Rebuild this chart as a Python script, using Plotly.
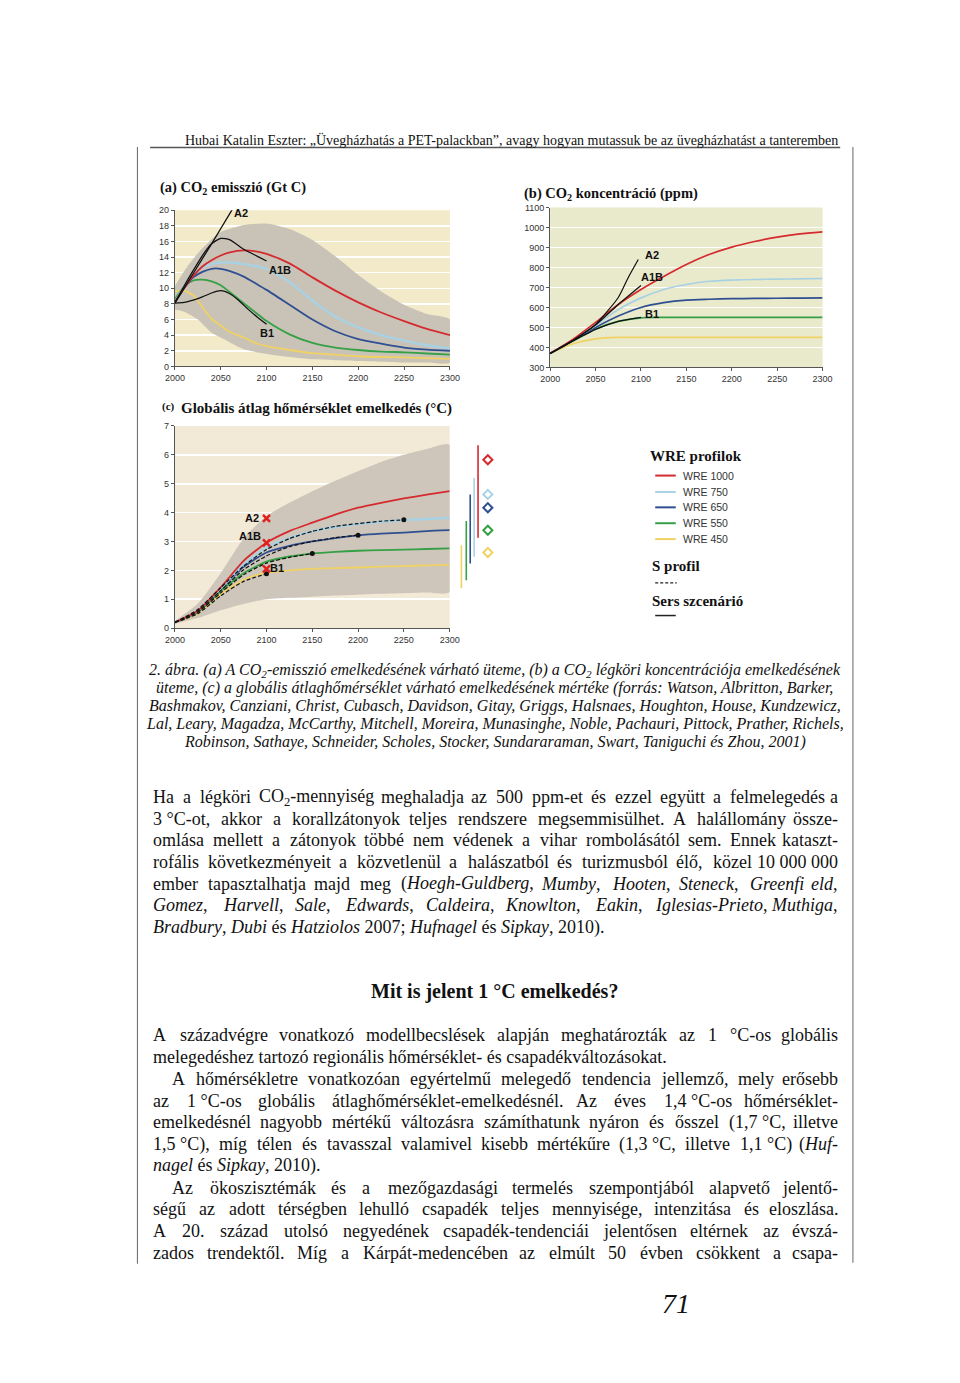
import unicodedata
import plotly.graph_objects as go

# The page is shown with the browser's 8px body margin, so the figure is sized to fit inside it.
FIG_W, FIG_H = 944, 1360
OFF = 8

# ---------------- DATA ----------------
years_a = [2000, 2010, 2020, 2030, 2040, 2050, 2060, 2075, 2090, 2100, 2125, 2150, 2175, 2200, 2225, 2250, 2275, 2300]
em_wre1000 = [8.2, 10.0, 11.6, 12.8, 13.6, 14.2, 14.6, 14.85, 14.7, 14.4, 13.2, 11.4, 9.7, 8.2, 6.9, 5.8, 4.8, 4.0]
em_wre750 = [8.2, 10.2, 11.8, 12.7, 13.1, 13.3, 13.3, 13.1, 12.8, 12.5, 10.8, 8.4, 6.4, 5.0, 4.0, 3.3, 2.7, 2.3]
em_wre650 = [8.2, 10.0, 11.4, 12.1, 12.5, 12.5, 12.2, 11.5, 10.5, 9.8, 7.9, 6.0, 4.5, 3.5, 2.9, 2.4, 2.15, 2.0]
em_wre550 = [8.6, 10.2, 11.0, 11.1, 10.9, 10.4, 9.5, 8.1, 6.7, 5.8, 4.1, 3.0, 2.4, 2.1, 1.9, 1.8, 1.65, 1.5]
em_wre450 = [9.6, 9.7, 9.1, 7.6, 6.1, 5.2, 4.4, 3.7, 2.9, 2.6, 2.1, 1.7, 1.5, 1.3, 1.2, 1.15, 1.05, 0.95]
band_a_years = [2000, 2010, 2025, 2040, 2050, 2075, 2100, 2125, 2150, 2175, 2200, 2225, 2250, 2275, 2300]
band_a_upper = [10.3, 12.2, 14.5, 16.3, 17.2, 18.1, 18.3, 17.6, 16.2, 14.1, 11.7, 9.6, 7.9, 6.7, 6.0]
band_a_lower = [7.3, 7.0, 6.0, 4.3, 3.7, 2.2, 1.6, 1.2, 0.9, 0.8, 0.7, 0.6, 0.5, 0.5, 0.5]
sres_a_years_a2 = [2000, 2020, 2040, 2060, 2075]
sres_a_a2 = [8.1, 11.9, 15.7, 19.6, 22.5]
sres_a_years = [2000, 2010, 2020, 2030, 2040, 2050, 2060, 2075, 2090, 2100]
sres_a_a1b = [8.2, 10.3, 12.3, 14.2, 15.7, 16.4, 16.2, 15.0, 14.1, 13.5]
sres_a_years_b1 = [2000, 2010, 2020, 2030, 2040, 2050, 2060, 2070, 2080, 2090, 2100]
sres_a_b1 = [8.1, 8.2, 8.5, 8.9, 9.4, 9.7, 9.3, 8.4, 7.3, 6.3, 5.4]

years_b = [2000, 2025, 2050, 2075, 2100, 2125, 2150, 2175, 2200, 2225, 2250, 2275, 2300]
co2_wre1000 = [370, 440, 525, 615, 690, 755, 815, 865, 902, 930, 952, 968, 978]
co2_wre750 = [370, 438, 510, 590, 648, 690, 715, 731, 737, 740, 742, 743, 745]
co2_wre650 = [370, 435, 500, 557, 600, 624, 637, 641, 644, 645, 646, 647, 648]
co2_wre550 = [370, 432, 492, 530, 548, 550, 550, 550, 550, 550, 550, 550, 550]
co2_wre450 = [370, 418, 443, 450, 450, 450, 450, 450, 450, 450, 450, 450, 450]
sres_b_years_a2 = [2000, 2025, 2050, 2075, 2086, 2097]
sres_b_a2 = [370, 435, 515, 650, 750, 840]
sres_b_years = [2000, 2025, 2050, 2075, 2100]
sres_b_a1b = [370, 435, 512, 615, 710]
sres_b_b1 = [370, 432, 490, 530, 550]

years_c = [2000, 2025, 2050, 2075, 2100, 2125, 2150, 2175, 2200, 2225, 2250, 2275, 2300]
t_wre1000 = [0.2, 0.6, 1.41, 2.33, 2.96, 3.36, 3.65, 3.93, 4.17, 4.34, 4.49, 4.62, 4.74]
t_wre750 = [0.2, 0.6, 1.38, 2.2, 2.78, 3.12, 3.35, 3.5, 3.6, 3.68, 3.74, 3.78, 3.82]
t_wre650 = [0.2, 0.57, 1.35, 2.12, 2.62, 2.85, 3.0, 3.12, 3.21, 3.27, 3.31, 3.36, 3.39]
t_wre550 = [0.2, 0.55, 1.28, 1.9, 2.3, 2.48, 2.58, 2.64, 2.68, 2.7, 2.72, 2.74, 2.76]
t_wre450 = [0.2, 0.5, 1.18, 1.68, 1.92, 2.0, 2.05, 2.08, 2.1, 2.13, 2.15, 2.17, 2.19]
band_c_upper = [0.25, 0.85, 1.9, 3.1, 3.88, 4.34, 4.74, 5.1, 5.43, 5.75, 6.0, 6.2, 6.35]
band_c_lower = [0.15, 0.35, 0.62, 0.84, 1.0, 1.05, 1.09, 1.13, 1.16, 1.19, 1.21, 1.23, 1.25]
s_450 = [0.2, 0.5, 1.12, 1.62, 1.88]
s_550 = [0.2, 0.55, 1.22, 1.85, 2.25, 2.45, 2.58]
s_650 = [0.2, 0.6, 1.3, 2.02, 2.5, 2.82, 3.0, 3.13, 3.22]
s_750 = [0.2, 0.65, 1.4, 2.15, 2.72, 3.1, 3.35, 3.52, 3.62, 3.7, 3.75]
sres_c_labels = ["A2", "A1B", "B1"]
sres_c_2100 = [3.8, 2.95, 2.05]
eq_low = [1.38, 1.66, 2.24, 2.47, 3.13]
eq_high = [2.87, 3.71, 4.63, 5.2, 6.33]
eq_best = [2.62, 3.39, 4.17, 4.63, 5.83]

wre_names = ["WRE 1000", "WRE 750", "WRE 650", "WRE 550", "WRE 450"]

C_RED, C_LBLUE, C_DBLUE, C_GREEN, C_YEL = "#d52a2e", "#a8d2e4", "#2f4f91", "#35a046", "#f0d264"
wre_colors = [C_RED, C_LBLUE, C_DBLUE, C_GREEN, C_YEL]
SERIF = "Liberation Serif"
SANS = "Liberation Sans"


def PX(x):
    return (x - OFF) / FIG_W


def PY(y):
    return 1 - (y - OFF) / FIG_H


fig = go.Figure()


def add_line(x, y, color, xa, ya, width=1.6, dash="solid"):
    fig.add_trace(go.Scatter(x=x, y=y, mode="lines", line=dict(color=color, width=width, dash=dash, shape="spline", smoothing=0.6),
                             xaxis=xa, yaxis=ya, hoverinfo="skip", showlegend=False))


def add_band(x, up, lo, color, xa, ya):
    fig.add_trace(go.Scatter(x=list(x) + list(x)[::-1], y=list(up) + list(lo)[::-1], mode="lines", fill="toself",
                             fillcolor=color, line=dict(width=0, shape="spline", smoothing=0.6), xaxis=xa, yaxis=ya,
                             hoverinfo="skip", showlegend=False))


add_band(band_a_years, band_a_upper, band_a_lower, "rgb(201,195,183)", "x", "y")
for vals, col in zip([em_wre450, em_wre550, em_wre650, em_wre750, em_wre1000], [C_YEL, C_GREEN, C_DBLUE, C_LBLUE, C_RED]):
    add_line(years_a, vals, col, "x", "y", width=1.8 if col != C_LBLUE else 2.4)
add_line(sres_a_years_a2, sres_a_a2, "#111", "x", "y", width=1.3)
add_line(sres_a_years, sres_a_a1b, "#111", "x", "y", width=1.3)
add_line(sres_a_years_b1, sres_a_b1, "#111", "x", "y", width=1.3)

for vals, col in zip([co2_wre450, co2_wre550, co2_wre650, co2_wre750, co2_wre1000], [C_YEL, C_GREEN, C_DBLUE, C_LBLUE, C_RED]):
    add_line(years_b, vals, col, "x2", "y2", width=1.7)
add_line(sres_b_years_a2, sres_b_a2, "#111", "x2", "y2", width=1.2)
add_line(sres_b_years, sres_b_a1b, "#111", "x2", "y2", width=1.2)
add_line(sres_b_years, sres_b_b1, "#111", "x2", "y2", width=1.2)

add_band(years_c, band_c_upper, band_c_lower, "rgb(206,198,187)", "x3", "y3")
for vals, col in zip([t_wre450, t_wre550, t_wre650, t_wre750, t_wre1000], [C_YEL, C_GREEN, C_DBLUE, C_LBLUE, C_RED]):
    add_line(years_c, vals, col, "x3", "y3", width=1.8 if col != C_LBLUE else 2.4)
for s in [s_450, s_550, s_650, s_750]:
    xs = years_c[:len(s)]
    add_line(xs, s, "#111", "x3", "y3", width=1.2, dash="4px,2px")
    fig.add_trace(go.Scatter(x=[xs[-1]], y=[s[-1]], mode="markers", marker=dict(color="#111", size=5),
                             xaxis="x3", yaxis="y3", hoverinfo="skip", showlegend=False))
fig.add_trace(go.Scatter(x=[2100] * len(sres_c_2100), y=sres_c_2100, mode="markers",
                         marker=dict(symbol="x-thin", size=7, color="#e02020", line=dict(color="#e02020", width=2.5)),
                         xaxis="x3", yaxis="y3", hoverinfo="skip", showlegend=False))

bar_pos = [6, 11, 15, 19, 23]
diam_pos = 33
for i, col in enumerate([C_YEL, C_GREEN, C_DBLUE, C_LBLUE, C_RED]):
    fig.add_trace(go.Scatter(x=[bar_pos[i], bar_pos[i]], y=[eq_low[i], eq_high[i]], mode="lines",
                             line=dict(color=col, width=1.6), xaxis="x4", yaxis="y4", hoverinfo="skip", showlegend=False))
    fig.add_trace(go.Scatter(x=[diam_pos], y=[eq_best[i]], mode="markers",
                             marker=dict(symbol="diamond-open", size=7, color=col, line=dict(color=col, width=2)),
                             xaxis="x4", yaxis="y4", hoverinfo="skip", showlegend=False))

tickfont = dict(family=SANS, size=9, color="#333")
xcommon = dict(range=[2000, 2300], tickvals=[2000, 2050, 2100, 2150, 2200, 2250, 2300], showgrid=False, zeroline=False,
               showline=True, linecolor="#555", linewidth=1, ticks="outside", ticklen=3, tickcolor="#555",
               tickfont=tickfont, fixedrange=True)
ycommon = dict(showgrid=True, gridcolor="white", gridwidth=1.6, zeroline=False, showline=True, linecolor="#555",
               linewidth=1, ticks="outside", ticklen=3, tickcolor="#555", tickfont=tickfont, fixedrange=True)

fig.update_layout(
    width=FIG_W, height=FIG_H, autosize=False, margin=dict(l=0, r=0, t=0, b=0),
    paper_bgcolor="white", plot_bgcolor="rgba(0,0,0,0)", showlegend=False,
    xaxis=dict(domain=[PX(168.3), PX(449.3)], anchor="y", **xcommon),
    yaxis=dict(domain=[PY(364), PY(206.7)], anchor="x", range=[0, 20], dtick=2, **ycommon),
    xaxis2=dict(domain=[PX(551.7), PX(830)], anchor="y2", **xcommon),
    yaxis2=dict(domain=[PY(365), PY(204)], anchor="x2", range=[300, 1100], dtick=100, **ycommon),
    xaxis3=dict(domain=[PX(168.3), PX(449)], anchor="y3", **xcommon),
    yaxis3=dict(domain=[PY(627.7), PY(424)], anchor="x3", range=[0, 7], dtick=1, **ycommon),
    xaxis4=dict(domain=[PX(455), PX(500)], anchor="y4", range=[0, 45], visible=False, fixedrange=True),
    yaxis4=dict(domain=[PY(627.7), PY(424)], anchor="x4", range=[0, 7], visible=False, fixedrange=True),
)

shapes = []
for xr, yr, col in [("x", "y", "#f2eac8"), ("x2", "y2", "#e9e9cc"), ("x3", "y3", "#f3e9d7")]:
    shapes.append(dict(type="rect", xref=xr + " domain", yref=yr + " domain", x0=0, x1=1, y0=0, y1=1,
                       fillcolor=col, line=dict(width=0), layer="below"))
shapes.append(dict(type="line", xref="paper", yref="paper", x0=PX(143), x1=PX(848), y0=PY(143.5), y1=PY(143.5),
                   line=dict(color="#555", width=1.3)))
shapes.append(dict(type="line", xref="paper", yref="paper", x0=PX(130), x1=PX(130), y0=PY(143), y1=PY(1268),
                   line=dict(color="#666", width=1)))
shapes.append(dict(type="line", xref="paper", yref="paper", x0=PX(861), x1=PX(861), y0=PY(143), y1=PY(1267),
                   line=dict(color="#666", width=1)))
leg_rows = [474, 490.5, 506, 522, 538]
for yy, col in zip(leg_rows, wre_colors):
    shapes.append(dict(type="line", xref="paper", yref="paper", x0=PX(659), x1=PX(680), y0=PY(yy), y1=PY(yy),
                       line=dict(color=col, width=2)))
shapes.append(dict(type="line", xref="paper", yref="paper", x0=PX(659), x1=PX(681), y0=PY(582), y1=PY(582),
                   line=dict(color="#222", width=1.3, dash="3px,2px")))
shapes.append(dict(type="line", xref="paper", yref="paper", x0=PX(659), x1=PX(680), y0=PY(615), y1=PY(615),
                   line=dict(color="#222", width=1.5)))
fig.update_layout(shapes=shapes)

ann = []


def text(x, y, s, size, family=SERIF, xanchor="left", color="#111", yanchor="middle"):
    ann.append(dict(x=PX(x), y=PY(y), xref="paper", yref="paper", text=s, showarrow=False, xanchor=xanchor,
                    yanchor=yanchor, font=dict(family=family, size=size, color=color), borderpad=0))


text(847, 136, "Hubai Katalin Eszter: „Üvegházhatás a PET-palackban”, avagy hogyan mutassuk be az üvegházhatást a tanteremben",
     14, xanchor="right")
text(152, 184, "<b>(a) CO<sub>2</sub> emisszió (Gt C)</b>", 14.5)
text(524, 190, "<b>(b) CO<sub>2</sub> koncentráció (ppm)</b>", 14.5)
text(154, 404, "<b>(c)</b>", 11)
text(174, 406, "<b>Globális átlag hőmérséklet emelkedés (°C)</b>", 15)


def data_label(xa, ya, x, y, s, xanchor="left"):
    ann.append(dict(x=x, y=y, xref=xa, yref=ya, text="<b>%s</b>" % s, showarrow=False, xanchor=xanchor,
                    yanchor="middle", font=dict(family=SANS, size=11, color="#111")))


data_label("x", "y", 2062, 19.6, "A2")
data_label("x", "y", 2100, 12.3, "A1B")
data_label("x", "y", 2091, 4.3, "B1")
data_label("x2", "y2", 2102, 865, "A2")
data_label("x2", "y2", 2098, 752, "A1B")
data_label("x2", "y2", 2102, 568, "B1")
data_label("x3", "y3", 2094, 3.8, sres_c_labels[0], xanchor="right")
data_label("x3", "y3", 2096, 3.18, sres_c_labels[1], xanchor="right")
data_label("x3", "y3", 2102, 2.07, sres_c_labels[2])

text(653, 454, "<b>WRE profilok</b>", 15)
for yy, nm in zip(leg_rows, wre_names):
    text(686, yy, nm, 10.5, family=SANS, color="#333")
text(655, 565, "<b>S profil</b>", 15)
text(655, 600, "<b>Sers szcenárió</b>", 15)

caption = [
    "2. ábra. (a) A CO<sub>2</sub>-emisszió emelkedésének várható üteme, (b) a CO<sub>2</sub> légköri koncentrációja emelkedésének",
    "üteme, (c) a globális átlaghőmérséklet várható emelkedésének mértéke (forrás: Watson, Albritton, Barker,",
    "Bashmakov, Canziani, Christ, Cubasch, Davidson, Gitay, Griggs, Halsnaes, Houghton, House, Kundzewicz,",
    "Lal, Leary, Magadza, McCarthy, Mitchell, Moreira, Munasinghe, Noble, Pachauri, Pittock, Prather, Richels,",
    "Robinson, Sathaye, Schneider, Scholes, Stocker, Sundararaman, Swart, Taniguchi és Zhou, 2001)",
]
for i, line in enumerate(caption):
    text(495, 670 + i * 18, "<i>%s</i>" % line, 16, xanchor="center")

TW = {' ': 250, '\u00a0': 250, '.': 250, ',': 250, ';': 278, ':': 278, '-': 333, '(': 333, ')': 333, '°': 400, '?': 444,
      'a': 444, 'b': 500, 'c': 444, 'd': 500, 'e': 444, 'f': 333, 'g': 500, 'h': 500, 'i': 278, 'j': 278, 'k': 500,
      'l': 278, 'm': 778, 'n': 500, 'o': 500, 'p': 500, 'q': 500, 'r': 333, 's': 389, 't': 278, 'u': 500, 'v': 500,
      'w': 722, 'x': 500, 'y': 500, 'z': 444,
      'A': 722, 'B': 667, 'C': 667, 'D': 722, 'E': 611, 'F': 556, 'G': 722, 'H': 722, 'I': 333, 'J': 389, 'K': 722,
      'L': 611, 'M': 889, 'N': 722, 'O': 722, 'P': 556, 'Q': 722, 'R': 667, 'S': 556, 'T': 611, 'U': 722, 'V': 722,
      'W': 944, 'X': 722, 'Y': 722, 'Z': 611}


def cw(ch):
    base = unicodedata.normalize("NFD", ch)[0]
    if base.isdigit():
        return 500
    return TW.get(base, 500)


def conv(tok, state, size):
    out = "<i>" if state else ""
    w = 0.0
    i = 0
    while i < len(tok):
        ch = tok[i]
        if ch == "*":
            out += "</i>" if state else "<i>"
            state = not state
        elif ch == "~":
            out += "<sub>%s</sub>" % tok[i + 1]
            w += cw(tok[i + 1]) * 0.65
            i += 1
        else:
            out += ch
            w += cw(ch)
        i += 1
    if state:
        out += "</i>"
    out = out.replace("<i></i>", "")
    return out, w * size / 1000.0, state


def body_line(line, y, x0, x1, size, justify=True):
    toks = line.split(" ")
    state = False
    items = []
    for t in toks:
        m, w, state = conv(t, state, size)
        items.append((m, w))
    if not justify:
        text(x0, y, " ".join(m for m, _ in items), size)
        return
    total = sum(w for _, w in items)
    gap = (x1 - x0 - total) / (len(items) - 1)
    x = x0
    for k, (m, w) in enumerate(items):
        if k == len(items) - 1:
            text(x1, y, m, size, xanchor="right")
        else:
            text(x, y, m, size)
        x += w + gap


NB = "\u00a0"
para1 = [
    ("Ha a légköri CO~2-mennyiség meghaladja az 500 ppm-et és ezzel együtt a felmelegedés a", 145, True),
    ("3" + NB + "°C-ot, akkor a korallzátonyok teljes rendszere megsemmisülhet. A halállomány össze-", 145, True),
    ("omlása mellett a zátonyok többé nem védenek a vihar rombolásától sem. Ennek kataszt-", 145, True),
    ("rofális következményeit a közvetlenül a halászatból és turizmusból élő, közel 10" + NB + "000" + NB + "000", 145, True),
    ("ember tapasztalhatja majd meg (*Hoegh-Guldberg*, *Mumby*, *Hooten*, *Steneck*, *Greenfi eld*,", 145, True),
    ("*Gomez*, *Harvell*, *Sale*, *Edwards*, *Caldeira*, *Knowlton*, *Eakin*, *Iglesias-Prieto*, *Muthiga*,", 145, True),
    ("*Bradbury*, *Dubi* és *Hatziolos* 2007; *Hufnagel* és *Sipkay*, 2010).", 145, False),
]
for i, (ln, x0, j) in enumerate(para1):
    body_line(ln, 798 + i * 21.8, x0, 847, 18, j)

text(495, 994, "<b>Mit is jelent 1 °C emelkedés?</b>", 20, xanchor="center")

para2 = [
    ("A századvégre vonatkozó modellbecslések alapján meghatározták az 1 °C-os globális", 145, True),
    ("melegedéshez tartozó regionális hőmérséklet- és csapadékváltozásokat.", 145, False),
    ("A hőmérsékletre vonatkozóan egyértelmű melegedő tendencia jellemző, mely erősebb", 164, True),
    ("az 1" + NB + "°C-os globális átlaghőmérséklet-emelkedésnél. Az éves 1,4" + NB + "°C-os hőmérséklet-", 145, True),
    ("emelkedésnél nagyobb mértékű változásra számíthatunk nyáron és ősszel (1,7" + NB + "°C, illetve", 145, True),
    ("1,5" + NB + "°C), míg télen és tavasszal valamivel kisebb mértékűre (1,3" + NB + "°C, illetve 1,1" + NB + "°C) (*Huf-*", 145, True),
    ("*nagel* és *Sipkay*, 2010).", 145, False),
    ("Az ökoszisztémák és a mezőgazdasági termelés szempontjából alapvető jelentő-", 164, True),
    ("ségű az adott térségben lehulló csapadék teljes mennyisége, intenzitása és eloszlása.", 145, True),
    ("A 20. század utolsó negyedének csapadék-tendenciái jelentősen eltérnek az évszá-", 145, True),
    ("zados trendektől. Míg a Kárpát-medencében az elmúlt 50 évben csökkent a csapa-", 145, True),
]
for i, (ln, x0, j) in enumerate(para2):
    body_line(ln, 1038 + i * 21.9, x0, 847, 18, j)

text(680, 1308, "<i>71</i>", 28, xanchor="center")

fig.update_layout(annotations=ann)
fig.write_html("out.html", config={"displayModeBar": False, "staticPlot": True})
